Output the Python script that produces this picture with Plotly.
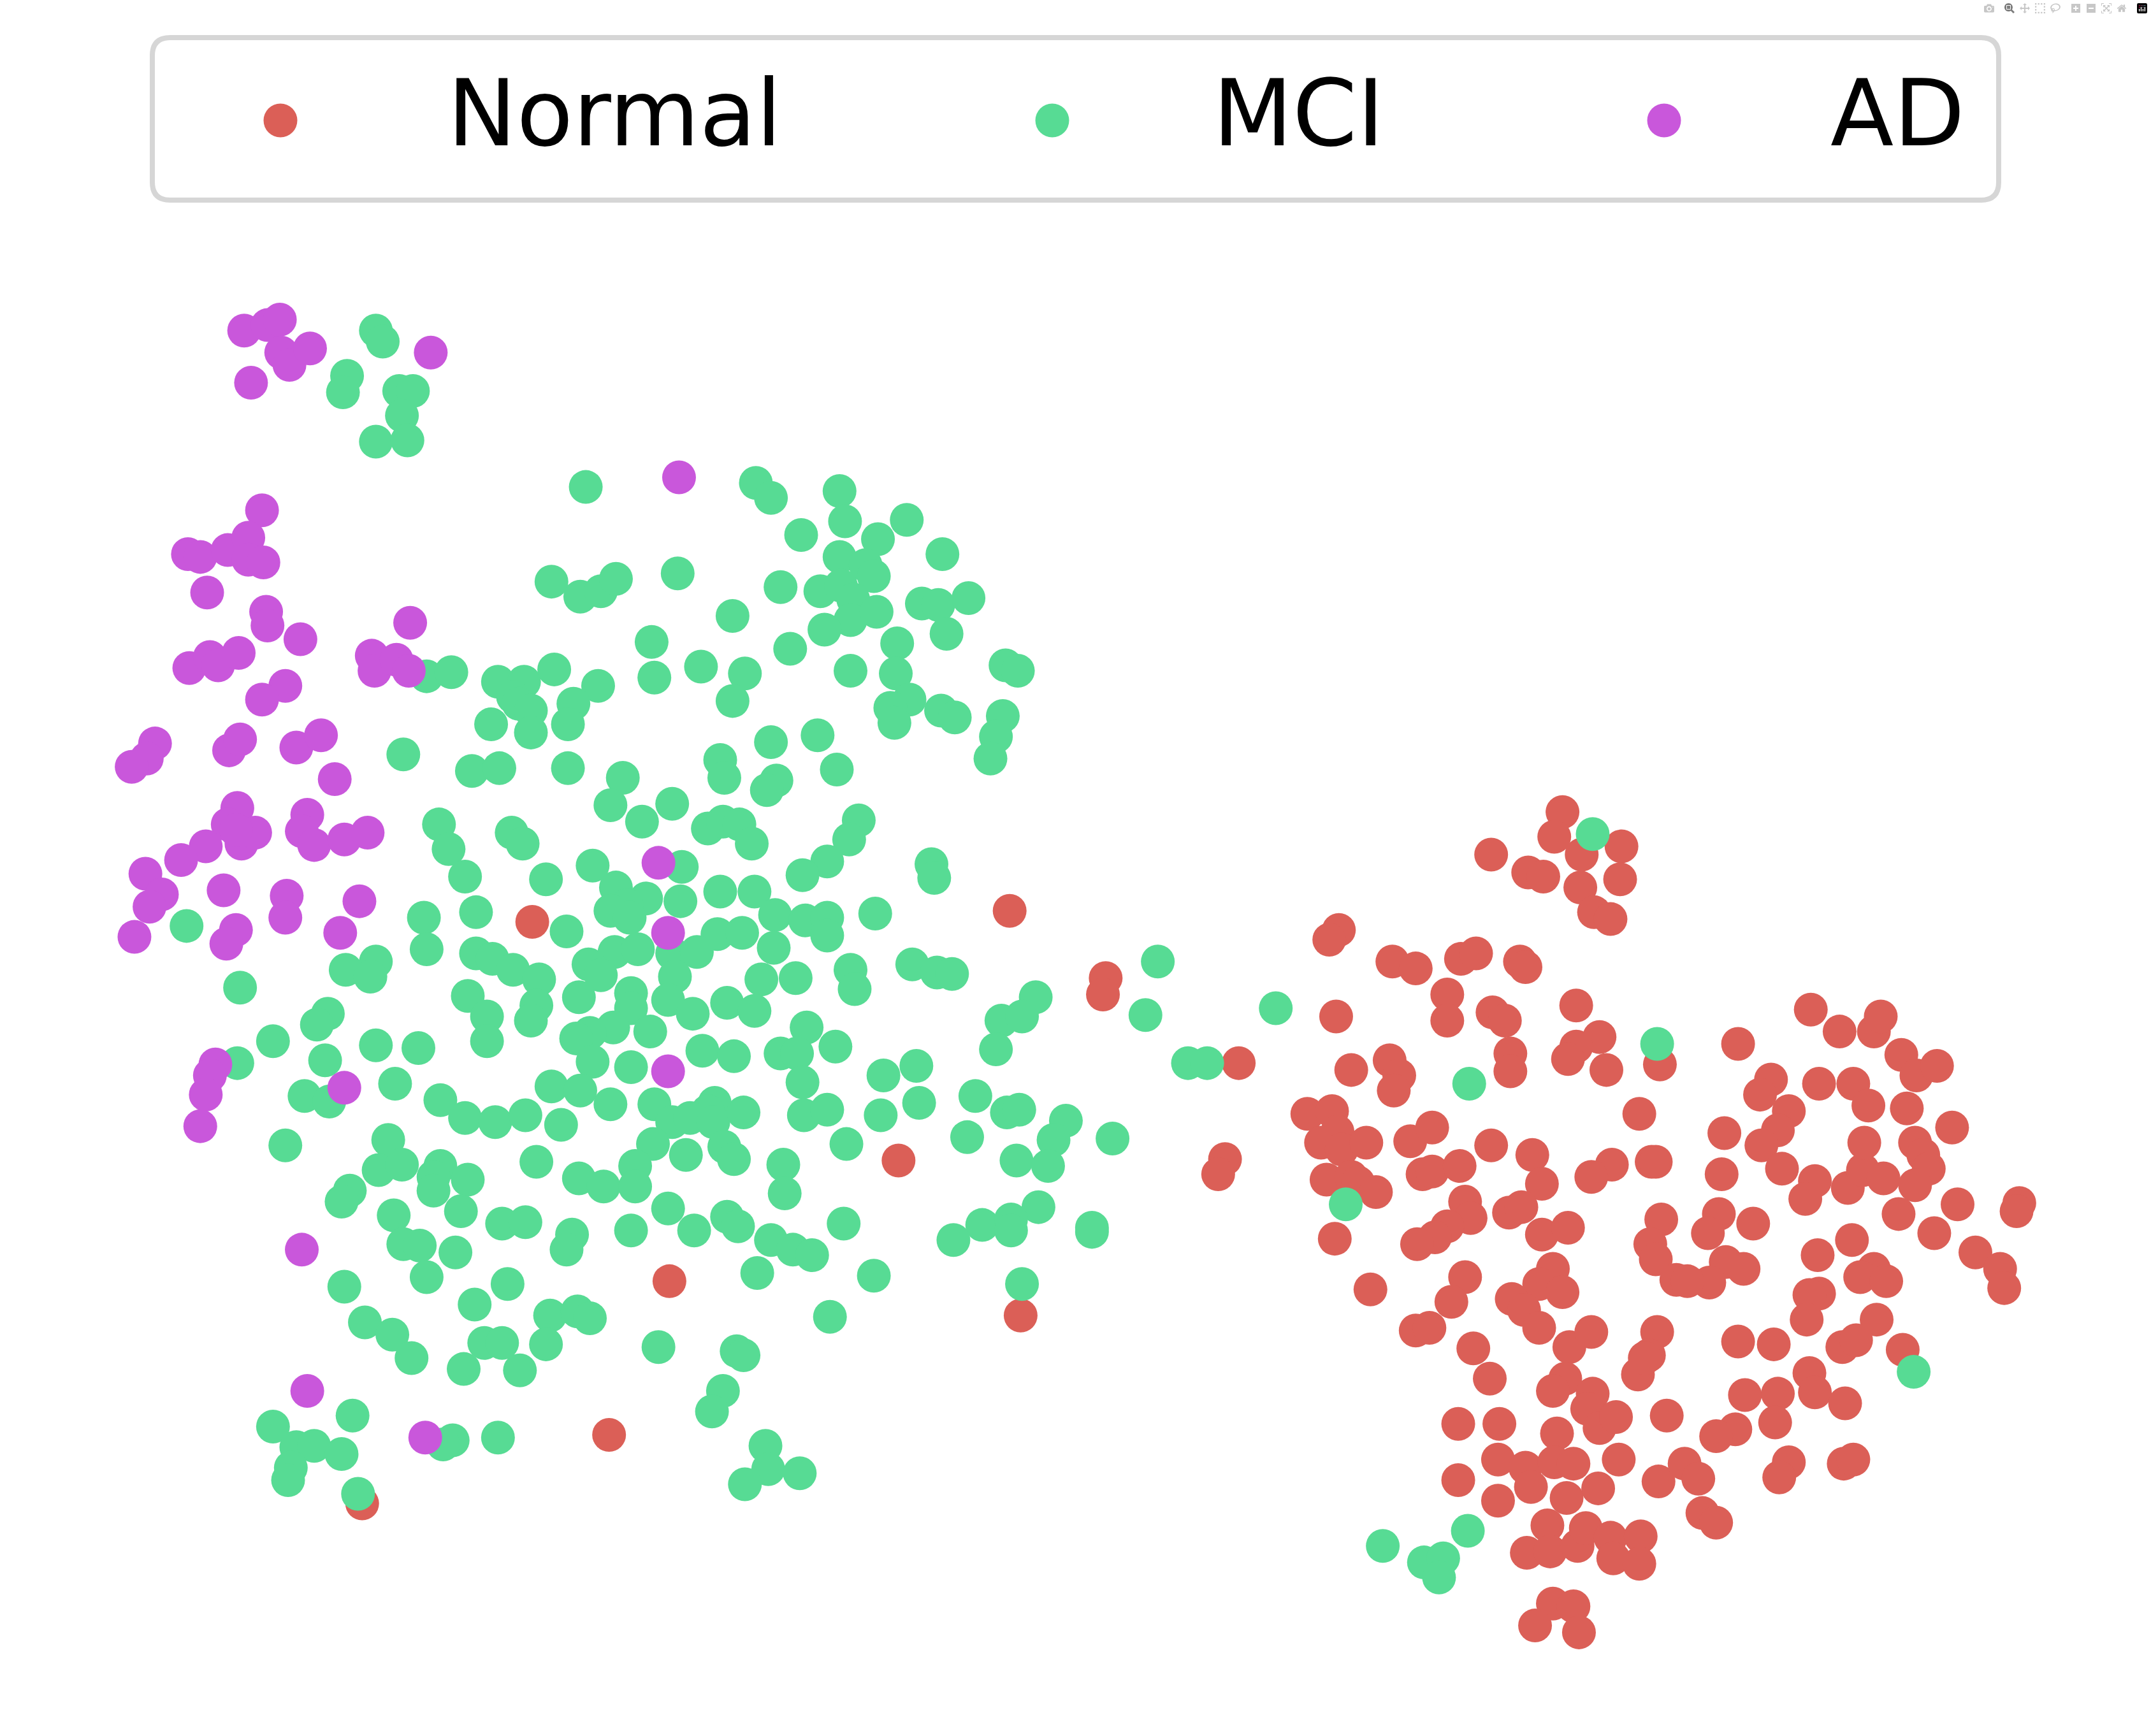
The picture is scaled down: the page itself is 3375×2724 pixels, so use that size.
import plotly.graph_objects as go

W, H = 3375, 2724
SCALE = W / 1568

categories = ["Normal", "MCI", "AD"]
colors = ["#db5f57", "#57db94", "#c957db"]

normal_pts = [(264,1096),(444,1046),(488,934),(388,672),(736,664),(655,846),(744,959),(806,713),(804,725),(903,775),(893,845),(888,856),
(1139,592),(1133,610),(1182,617),(1153,623),(1087,623),(1114,636),(1125,639),(1181,641),(1152,647),(1162,665),(1174,670),(976,678),(969,685),(1015,701),(1032,706),(1065,699),(1076,695),(1108,701),(1112,705),(1055,725),(1055,744),(974,741),(1088,738),(1097,744),(1149,733),(1166,756),(1149,763),(1143,772),(1171,780),(1101,768),(1101,781),(1013,773),(1020,784),(985,780),(1016,795),(1210,776),(1267,761),(1320,736),(1341,752),(1366,752),(1371,741),(1386,769),(1397,784),(1412,777),(1291,787),(1283,798),(1326,790),(1351,790),(1362,806),(1390,808),(1304,810),(1296,824),(1284,835),(1257,826),(1195,812),(953,812),(971,810),(975,825),(963,833),(978,838),(996,833),(1028,832),(1044,822),(1087,835),(1117,842),(1175,849),(1160,858),(1204,847),(1207,847),(1255,856),(1299,852),(1323,861),(1316,874),(1347,866),(1358,853),(1359,833),(1373,859),(1396,833),(1402,842),(1406,852),(1396,864),(1423,822),(1427,878),(1472,877),(1470,883),(1384,885),(1410,899),(1440,913),(1458,925),(1461,939),(967,860),(985,858),(990,862),(1003,869),(1037,856),(1044,854),(1064,850),(1124,863),(1068,876),(1072,888),(1055,894),(1046,902),(1033,907),(973,903),(1100,884),(1109,880),(1124,900),(1143,895),(1211,889),(1203,907),(1207,918),(1253,885),(1245,899),(1278,892),(1350,904),(1325,915),(1258,920),(1271,925),(1246,935),(1222,933),(1230,934),(1366,925),(1356,931),(1375,934),(1068,931),(1058,949),(999,940),(1132,925),(1122,936),(1139,942),(1102,947),(1111,955),(1122,968),(1326,943),(1319,944),(1317,962),(1368,962),(1032,970),(1042,968),(1074,983),(1144,982),(1160,971),(1208,971),(1267,978),(1293,980),(1343,982),(1353,977),(1387,984),(1086,1005),(1141,1005),(1132,1014),(1161,1016),(1157,1027),(1166,1041),(1178,1033),(1202,988),(1194,1002),(1199,990),(1215,1032),(1272,1017),(1296,1016),(1319,1001),(1323,1015),(1345,1023),(1294,1037),(1265,1042),(1251,1047),(1063,1038),(1093,1038),(1135,1045),(1092,1064),(1112,1070),(1116,1084),(1063,1079),(1092,1094),(1133,1066),(1147,1067),(1180,1064),(1165,1085),(1142,1092),(1209,1080),(1228,1067),(1238,1078),(1241,1103),(1251,1110),(1304,1066),(1297,1077),(1344,1067),(1351,1064),(1128,1112),(1113,1132),(1130,1131),(1150,1127),(1156,1114),(1174,1121),(1196,1120),(1176,1136),(1195,1140),(1132,1169),(1147,1171),(1119,1185),(1151,1190)]

mci_pts = [(274,241),(279,249),(253,274),(250,286),(291,285),(301,285),(293,303),(274,322),(297,321),(427,355),(551,352),(562,363),(612,358),(616,380),(661,379),(584,390),(640,393),(612,406),(687,404),(631,412),(637,420),(402,424),(423,435),(438,431),(449,422),(494,418),(569,428),(598,431),(613,427),(622,437),(620,452),(639,446),(672,440),(684,441),(706,436),(534,449),(601,459),(690,462),(475,468),(576,473),(654,469),(511,486),(543,491),(477,494),(620,489),(653,491),(733,485),(742,489),(311,493),(329,490),(363,497),(382,497),(404,488),(436,500),(374,508),(378,513),(387,518),(418,513),(534,511),(663,510),(649,516),(686,518),(696,523),(731,522),(652,527),(358,528),(387,534),(414,528),(596,536),(726,537),(722,553),(294,550),(562,541),(525,554),(528,567),(344,562),(364,560),(414,560),(454,567),(610,561),(566,569),(559,576),(445,587),(490,586),(468,599),(320,601),(373,607),(381,615),(327,619),(516,604),(527,599),(539,601),(548,615),(626,598),(619,612),(603,628),(585,638),(679,630),(681,640),(339,639),(398,641),(432,631),(497,632),(449,647),(525,650),(550,650),(471,655),(496,657),(457,660),(445,664),(459,669),(309,669),(347,665),(565,667),(587,671),(603,669),(603,682),(638,666),(136,675),(413,679),(523,681),(541,680),(564,691),(311,692),(347,695),(359,699),(448,694),(465,692),(490,695),(508,694),(429,703),(438,711),(374,707),(252,707),(274,701),(270,712),(393,714),(492,712),(555,714),(580,713),(620,707),(665,703),(683,709),(694,710),(623,721),(175,720),(341,726),(422,727),(460,724),(487,729),(530,731),(460,735),(391,733),(239,739),(231,747),(355,741),(387,744),(505,739),(550,737),(447,749),(430,753),(474,752),(420,757),(588,749),(755,727),(730,744),(745,741),(199,759),(274,762),(305,764),(355,759),(512,766),(535,770),(569,768),(581,768),(609,763),(726,765),(173,775),(237,773),(432,774),(460,778),(644,784),(668,777),(288,790),(402,792),(423,795),(585,789),(222,799),(240,803),(321,802),(445,805),(477,805),(521,804),(516,810),(339,815),(361,818),(383,813),(490,818),(503,815),(520,818),(542,811),(586,813),(603,809),(642,813),(670,804),(711,799),(734,811),(743,809),(777,817),(409,820),(705,829),(768,831),(811,830),(208,835),(283,831),(476,834),(528,836),(500,842),(535,845),(617,834),(741,846),(764,850),(276,853),(293,849),(321,850),(316,858),(391,847),(463,850),(571,849),(341,860),(316,868),(422,859),(440,865),(463,865),(255,868),(249,876),(336,883),(572,870),(487,881),(757,880),(287,886),(366,892),(383,891),(530,887),(538,894),(716,893),(737,889),(737,897),(615,892),(796,895),(796,898),(417,900),(413,911),(460,897),(506,897),(562,904),(695,904),(294,907),(306,908),(578,911),(592,915),(332,913),(552,928),(637,930),(311,931),(370,936),(251,938),(745,936),(346,951),(401,959),(421,956),(430,961),(605,960),(266,964),(286,973),(353,979),(366,979),(398,980),(480,982),(537,985),(542,988),(300,990),(338,998),(379,999),(527,1014),(519,1029),(257,1032),(199,1040),(216,1055),(229,1054),(249,1060),(212,1070),(210,1079),(330,1050),(323,1053),(363,1048),(558,1054),(560,1071),(583,1074),(543,1082),(261,1089),
(844,701),(835,740),(930,735),(866,775),(880,775),(1161,608),(1208,761),(1071,790),(981,878),(1395,1000),(1070,1116),(1008,1127),(1038,1139),(1052,1136),(1049,1150)]

ad_pts = [(178,241),(195,237),(204,233),(205,257),(211,266),(226,254),(183,279),(314,257),(495,348),(191,372),(137,404),(146,406),(166,401),(181,392),(181,408),(192,410),(151,432),(194,446),(195,456),(219,466),(299,454),(138,487),(153,479),(159,485),(174,476),(208,500),(191,510),(271,478),(273,489),(289,481),(298,489),(113,542),(107,553),(96,559),(167,547),(175,539),(216,545),(234,536),(244,568),(173,589),(224,594),(166,601),(150,617),(132,627),(176,615),(186,607),(220,606),(229,616),(251,612),(268,607),(172,605),(106,637),(118,652),(109,661),(163,649),(209,653),(208,669),(262,657),(248,680),(172,678),(165,688),(98,683),(480,629),(487,680),(487,781),(251,793),(157,776),(153,784),(150,798),(146,821),(220,911),(224,1014),(310,1048)]

series = [normal_pts, mci_pts, ad_pts]

MARKER = 53
fig = go.Figure()
for name, pts, col in zip(categories, series, colors):
    fig.add_trace(go.Scatter(
        x=[p[0] for p in pts], y=[p[1] for p in pts], mode="markers", name=name,
        marker=dict(size=MARKER, color=col, line=dict(width=0)), showlegend=False))

# legend frame
L, R, T, B, r = 239, 3136, 59, 314, 28
def fx(v): return v / W
def fy(v): return 1 - v / H
path = (f"M {fx(L+r)} {fy(T)} L {fx(R-r)} {fy(T)} Q {fx(R)} {fy(T)} {fx(R)} {fy(T+r)} "
        f"L {fx(R)} {fy(B-r)} Q {fx(R)} {fy(B)} {fx(R-r)} {fy(B)} L {fx(L+r)} {fy(B)} "
        f"Q {fx(L)} {fy(B)} {fx(L)} {fy(B-r)} L {fx(L)} {fy(T+r)} Q {fx(L)} {fy(T)} {fx(L+r)} {fy(T)} Z")
shapes = [dict(type="path", xref="paper", yref="paper", path=path, line=dict(color="#d6d6d6", width=8), fillcolor="white")]
key_x = [440, 1651, 2611]
text_x = [700, 1901, 2870]
annotations = []
for name, col, kx, tx in zip(categories, colors, key_x, text_x):
    shapes.append(dict(type="circle", xref="paper", yref="paper", xsizemode="pixel", ysizemode="pixel",
                       xanchor=fx(kx), yanchor=fy(189), x0=-26.5, x1=26.5, y0=-26.5, y1=26.5,
                       fillcolor=col, line=dict(width=0)))
    annotations.append(dict(text=name, xref="paper", yref="paper", x=fx(tx), y=fy(178), xanchor="left", yanchor="middle",
                            showarrow=False, font=dict(family="DejaVu Sans", size=145, color="black")))

fig.update_layout(
    width=W, height=H, margin=dict(l=0, r=0, t=0, b=0),
    paper_bgcolor="white", plot_bgcolor="white",
    xaxis=dict(visible=False, range=[0, W / SCALE]),
    yaxis=dict(visible=False, range=[H / SCALE, 0]),
    shapes=shapes, annotations=annotations, showlegend=False,
)
fig.write_html("out.html", post_script="document.body.style.margin='0';")
